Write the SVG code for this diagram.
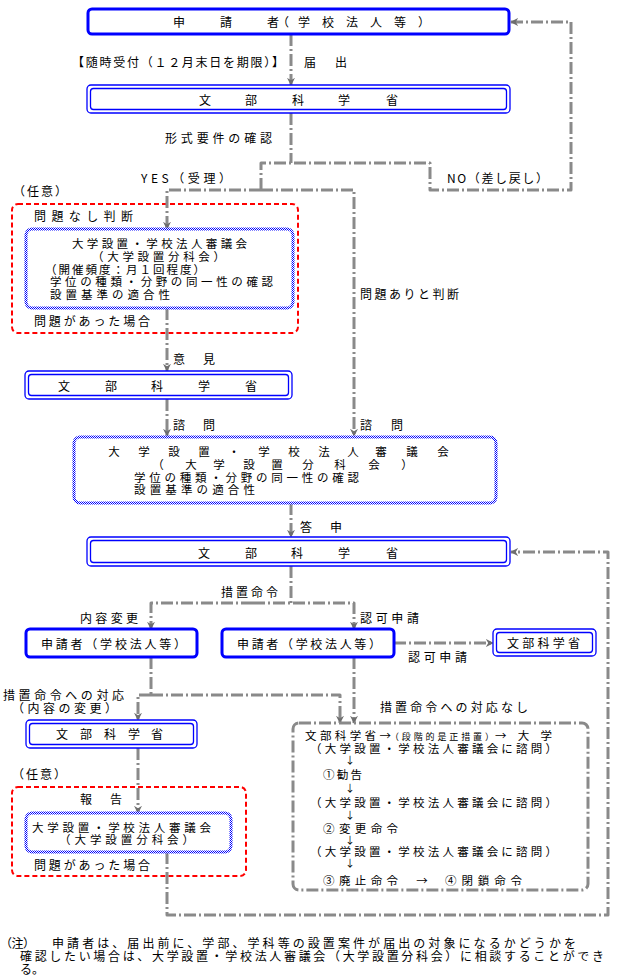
<svg xmlns="http://www.w3.org/2000/svg" width="621" height="978" viewBox="0 0 621 978">
<style>
.t{font-family:"Noto Sans CJK JP","Noto Sans CJK SC",sans-serif;font-size:12px;fill:#000}
.k{font-size:11.5px}
.s{font-size:9px}
.a{font-size:10px}
.m{text-anchor:middle}
.c{fill:none;stroke:#8a8a8a;stroke-width:3;stroke-dasharray:12 3 2 3;stroke-linejoin:round}
.b3{fill:#fff;stroke:#0000ff;stroke-width:3}
.bd{fill:#fff;stroke:#0000ff;stroke-width:1.3}
.bdi{fill:none;stroke:#0000ff;stroke-width:1.3}
.bh{fill:#fff;stroke:url(#chk);stroke-width:3}
.rd{fill:none;stroke:#ff0000;stroke-width:2;stroke-dasharray:5 3}
</style>
<defs>
<pattern id="chk" width="2" height="2" patternUnits="userSpaceOnUse"><rect width="2" height="2" fill="#fff"/><rect width="1" height="1" fill="#0000ff"/><rect x="1" y="1" width="1" height="1" fill="#0000ff"/></pattern>
<marker id="ah" viewBox="0 0 10 10" refX="9" refY="5" markerWidth="8" markerHeight="8" markerUnits="userSpaceOnUse" orient="auto"><path d="M0,0 L10,5 L0,10 L3,5 z" fill="#6e6e6e"/></marker>
</defs>
<rect width="621" height="978" fill="#fff"/>

<g id="optional-boxes">
<rect class="rd" x="12" y="204" width="286" height="129" rx="6"/>
<rect class="rd" x="12" y="787" width="234" height="89" rx="6"/>
</g>

<g id="connectors">
<path class="c" d="M291,34 V85" marker-end="url(#ah)"/>
<path class="c" d="M291,113 V163"/>
<path class="c" d="M261,190 V163 H430 V190 H571 V22 H511" marker-end="url(#ah)"/>
<path class="c" d="M261,190 H167 V229" marker-end="url(#ah)"/>
<path class="c" d="M261,190 H354 V436" marker-end="url(#ah)"/>
<path class="c" d="M167,308 V371" marker-end="url(#ah)"/>
<path class="c" d="M167,399 V436" marker-end="url(#ah)"/>
<path class="c" d="M291,503 V537" marker-end="url(#ah)"/>
<path class="c" d="M167,852 V915 H608 V552 H511" marker-end="url(#ah)"/>
<path class="c" d="M291,566 V603"/>
<path class="c" d="M253,603 H151 V629" marker-end="url(#ah)"/>
<path class="c" d="M253,603 H354 V629" marker-end="url(#ah)"/>
<path class="c" d="M394,643 H493" marker-end="url(#ah)"/>
<path class="c" d="M151,657 V695"/>
<path class="c" d="M151,695 H138 V720" marker-end="url(#ah)"/>
<path class="c" d="M151,695 H340 V723" marker-end="url(#ah)"/>
<path class="c" d="M354,657 V723" marker-end="url(#ah)"/>
<path class="c" d="M138,748 V813" marker-end="url(#ah)"/>
</g>

<g id="applicant-top">
<rect class="b3" x="88" y="9" width="421" height="25" rx="4"/>
<text class="t m" x="179 226 273 283 304 328 352 376 400 424" y="26.5">申請者（学校法人等）</text>
</g>

<g id="mext-1">
<rect class="bd" x="87" y="85" width="423" height="28" rx="4"/>
<rect class="bdi" x="90.5" y="88.5" width="416" height="21" rx="3"/>
<text class="t m" x="205 251 298 344 392" y="104.5">文部科学省</text>
</g>

<g id="labels-top">
<text class="t" x="72" y="66.5" textLength="212" lengthAdjust="spacing">【随時受付（１２月末日を期限）】</text>
<text class="t m" x="310 341" y="66.5">届出</text>
<text class="t" x="165" y="142.5" textLength="107" lengthAdjust="spacing">形式要件の確認</text>
<text class="t" x="141" y="182.5" textLength="90" lengthAdjust="spacing">YES（受理）</text>
<text class="t" x="447" y="182.5" textLength="101" lengthAdjust="spacing">NO（差し戻し）</text>
<text class="t" x="13" y="195.5" textLength="54" lengthAdjust="spacing">（任意）</text>
<text class="t" x="34" y="220.5" textLength="99" lengthAdjust="spacing">問題なし判断</text>
<text class="t" x="34" y="325.5" textLength="116" lengthAdjust="spacing">問題があった場合</text>
<text class="t" x="360" y="298.5" textLength="99" lengthAdjust="spacing">問題ありと判断</text>
<text class="t m" x="179 209" y="363.5">意見</text>
<text class="t m" x="179 209" y="429.5">諮問</text>
<text class="t m" x="366 397" y="429.5">諮問</text>
<text class="t m" x="306 336" y="531.5">答申</text>
</g>

<g id="council-1">
<rect class="bh" x="26" y="229" width="267" height="79" rx="6"/>
<text class="t k"><tspan x="72" y="247.5" textLength="175" lengthAdjust="spacing">大学設置・学校法人審議会</tspan><tspan x="92" y="260.5" textLength="133" lengthAdjust="spacing">（大学設置分科会）</tspan><tspan x="45" y="273.5" textLength="160" lengthAdjust="spacing">（開催頻度：月１回程度）</tspan><tspan x="50" y="285.5" textLength="223" lengthAdjust="spacing">学位の種類・分野の同一性の確認</tspan><tspan x="50" y="298.5" textLength="120" lengthAdjust="spacing">設置基準の適合性</tspan></text>
</g>

<g id="mext-2">
<rect class="bd" x="25" y="371" width="267" height="28" rx="4"/>
<rect class="bdi" x="28.5" y="374.5" width="260" height="21" rx="3"/>
<text class="t m" x="64 111 157 204 251" y="390.5">文部科学省</text>
</g>

<g id="council-2">
<rect class="bh" x="74" y="437" width="422" height="66" rx="6"/>
<text class="t k"><tspan class="m" x="114 144 174 204 234 264 294 324 353 381 412 443" y="455.5">大学設置・学校法人審議会</tspan><tspan class="m" x="158 191 219 249 277 308 340 374 407" y="468.5">（大学設置分科会）</tspan><tspan x="134" y="481.5" textLength="225" lengthAdjust="spacing">学位の種類・分野の同一性の確認</tspan><tspan x="134" y="493.5" textLength="121" lengthAdjust="spacing">設置基準の適合性</tspan></text>
</g>

<g id="mext-3">
<rect class="bd" x="87" y="537" width="423" height="29" rx="4"/>
<rect class="bdi" x="90.5" y="540.5" width="416" height="22" rx="3"/>
<text class="t m" x="204 251 297 344 392" y="557.5">文部科学省</text>
</g>

<g id="labels-mid">
<text class="t" x="221" y="596.5" textLength="57" lengthAdjust="spacing">措置命令</text>
<text class="t" x="80" y="622.5" textLength="58" lengthAdjust="spacing">内容変更</text>
<text class="t" x="360" y="622.5" textLength="59" lengthAdjust="spacing">認可申請</text>
<text class="t" x="408" y="661.5" textLength="59" lengthAdjust="spacing">認可申請</text>
<text class="t"><tspan x="3" y="699.5" textLength="121" lengthAdjust="spacing">措置命令への対応</tspan><tspan x="12" y="712.5" textLength="105" lengthAdjust="spacing">（内容の変更）</tspan></text>
<text class="t" x="380" y="711.5" textLength="148" lengthAdjust="spacing">措置命令への対応なし</text>
<text class="t" x="12" y="778.5" textLength="54" lengthAdjust="spacing">（任意）</text>
<text class="t m" x="86 116" y="803.5">報告</text>
<text class="t" x="34" y="869.5" textLength="116" lengthAdjust="spacing">問題があった場合</text>
</g>

<g id="applicant-left">
<rect class="b3" x="26" y="629" width="171" height="28" rx="4"/>
<text class="t" x="41" y="648.5" textLength="145" lengthAdjust="spacing">申請者（学校法人等）</text>
</g>

<g id="applicant-mid">
<rect class="b3" x="222" y="629" width="172" height="28" rx="4"/>
<text class="t" x="237" y="648.5" textLength="144" lengthAdjust="spacing">申請者（学校法人等）</text>
</g>

<g id="mext-right">
<rect class="bd" x="493" y="629" width="103" height="27" rx="4"/>
<rect class="bdi" x="496.5" y="632.5" width="96" height="20" rx="3"/>
<text class="t" x="507" y="647.5" textLength="73" lengthAdjust="spacing">文部科学省</text>
</g>

<g id="mext-4">
<rect class="bd" x="26" y="720" width="171" height="28" rx="4"/>
<rect class="bdi" x="29.5" y="723.5" width="164" height="21" rx="3"/>
<text class="t m" x="62 86 110 134 157" y="738.5">文部科学省</text>
</g>

<g id="council-3">
<rect class="bh" x="26" y="813" width="205" height="39" rx="6"/>
<text class="t k"><tspan x="32" y="831.5" textLength="179" lengthAdjust="spacing">大学設置・学校法人審議会</tspan><tspan x="59" y="843.5" textLength="135" lengthAdjust="spacing">（大学設置分科会）</tspan></text>
</g>

<g id="corrective-measures">
<rect class="c" x="293" y="723" width="295" height="167" rx="6"/>
<text class="t k"><tspan x="305" y="739.5" textLength="86" lengthAdjust="spacing">文部科学省→</tspan><tspan class="s" x="390" y="739.5" textLength="104" lengthAdjust="spacing">（段階的是正措置）</tspan><tspan x="495" y="739.5" textLength="57" lengthAdjust="spacing">→大学</tspan><tspan x="310" y="752.5" textLength="247" lengthAdjust="spacing">（大学設置・学校法人審議会に諮問）</tspan><tspan class="a m" x="350" y="764">↓</tspan><tspan x="323" y="778.5" textLength="39" lengthAdjust="spacing">①勧告</tspan><tspan class="a m" x="350" y="791.5">↓</tspan><tspan x="310" y="806.5" textLength="247" lengthAdjust="spacing">（大学設置・学校法人審議会に諮問）</tspan><tspan class="a m" x="350" y="819">↓</tspan><tspan x="323" y="832.5" textLength="75" lengthAdjust="spacing">②変更命令</tspan><tspan class="a m" x="350" y="844">↓</tspan><tspan x="310" y="855.5" textLength="247" lengthAdjust="spacing">（大学設置・学校法人審議会に諮問）</tspan><tspan class="a m" x="350" y="867">↓</tspan><tspan x="323" y="884.5" textLength="75" lengthAdjust="spacing">③廃止命令</tspan><tspan class="m" x="422" y="884.5">→</tspan><tspan x="445" y="884.5" textLength="77" lengthAdjust="spacing">④閉鎖命令</tspan></text>
</g>

<g id="note">
<text class="t"><tspan x="0" y="947.5" textLength="35" lengthAdjust="spacing">（注）</tspan><tspan x="52" y="947.5" textLength="524" lengthAdjust="spacing">申請者は、届出前に、学部、学科等の設置案件が届出の対象になるかどうかを</tspan><tspan x="20" y="960.5" textLength="584" lengthAdjust="spacing">確認したい場合は、大学設置・学校法人審議会（大学設置分科会）に相談することができ</tspan><tspan x="20" y="973.5">る。</tspan></text>
</g>
</svg>
